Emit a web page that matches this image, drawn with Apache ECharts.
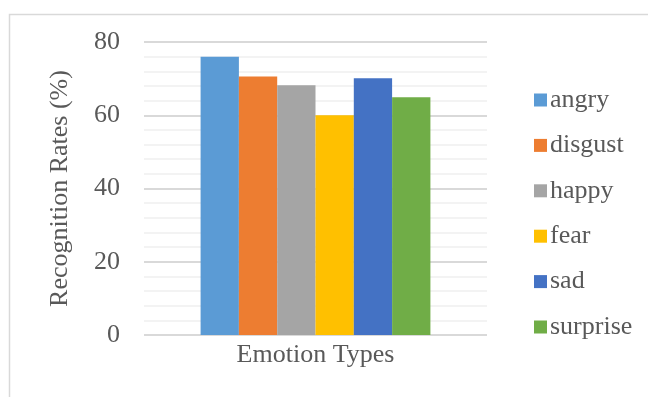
<!DOCTYPE html>
<html>
<head>
<meta charset="utf-8">
<script src="https://cdn.jsdelivr.net/npm/echarts@6/dist/echarts.min.js"></script>
<style>
  html, body { margin: 0; padding: 0; background: #fff; }
  #main { width: 648px; height: 397px; }
</style>
</head>
<body>
<div id="main"></div>
<script>
const categories = ['Emotion Types'];
const seriesNames = ['angry', 'disgust', 'happy', 'fear', 'sad', 'surprise'];
const seriesValues = [[76], [70.6], [68.2], [60], [70.1], [64.9]];
const colors = ['#5B9BD5', '#ED7D31', '#A5A5A5', '#FFC000', '#4472C4', '#70AD47'];

const chart = echarts.init(document.getElementById('main'));
const font = '"Liberation Serif", "Times New Roman", serif';

const option = {
    color: colors,
    textStyle: { fontFamily: font },
    graphic: [{
        type: 'rect',
        shape: { x: 9.5, y: 14.5, width: 700, height: 450 },
        style: { fill: 'none', stroke: '#D9D9D9', lineWidth: 1.5 },
        silent: true
    }],
    grid: { left: 144, right: 161, top: 42, bottom: 62 },
    legend: {
        orient: 'vertical',
        left: 529,
        top: 80,
        itemWidth: 13,
        itemHeight: 13,
        itemGap: 15.4,
        icon: 'rect',
        textStyle: { fontFamily: font, fontSize: 26, color: '#595959', lineHeight: 30, padding: [0, 0, 0, -2] },
        data: seriesNames
    },
    xAxis: {
        type: 'category',
        data: categories,
        axisLine: { show: false },
        axisTick: { show: false },
        axisLabel: { fontFamily: font, fontSize: 26, color: '#595959', margin: 7 }
    },
    yAxis: {
        type: 'value',
        min: 0,
        max: 80,
        interval: 20,
        name: 'Recognition Rates (%)',
        nameLocation: 'middle',
        nameGap: 71,
        nameTextStyle: { fontFamily: font, fontSize: 26, color: '#595959' },
        axisLabel: { fontFamily: font, fontSize: 26, color: '#595959', margin: 24 },
        axisLine: { show: false },
        axisTick: { show: false },
        splitLine: { lineStyle: { color: '#D9D9D9', width: 2 } },
        minorTick: { show: false, splitNumber: 5 },
        minorSplitLine: { show: true, lineStyle: { color: '#F0F0F0', width: 1.5 } }
    },
    series: seriesNames.map((name, i) => ({
        name: name,
        type: 'bar',
        data: seriesValues[i],
        barGap: '0%',
        barCategoryGap: '33%'
    }))
};
chart.setOption(option);
</script>
</body>
</html>
